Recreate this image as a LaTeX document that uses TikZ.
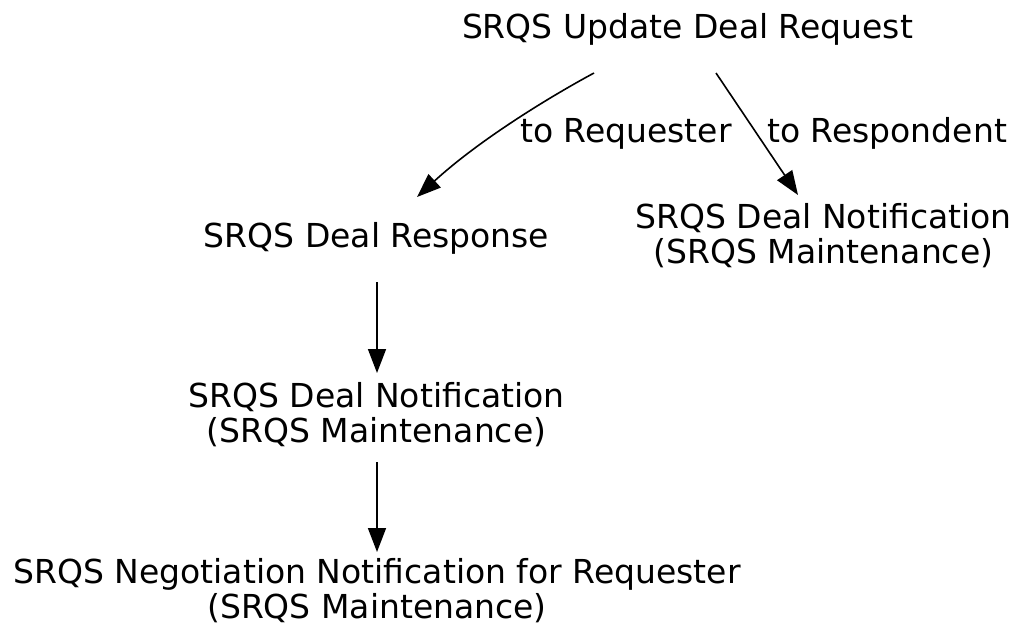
\documentclass[tikz,border=0pt]{standalone}
\usepackage{fontspec}
\setmainfont{DejaVu Sans}
\usetikzlibrary{arrows.meta}

\tikzset{
  msg/.style={anchor=base, inner sep=0pt, align=center, font=\fontsize{33}{35}\selectfont},
  lbl/.style={anchor=base west, inner sep=0pt, font=\fontsize{33}{35}\selectfont},
  edge/.style={line width=1.6pt, -{Triangle[length=24pt, width=18pt]}}
}

\begin{document}
\begin{tikzpicture}[x=1pt, y=-1pt] % 1 pixel = 1pt, eje y hacia abajo

        \useasboundingbox (0,0) rectangle (1016,626);

        % Mensajes (base = linea de base de la ultima linea)
        \node[msg] (update) at (687.5,38) {SRQS Update Deal Request};
        \node[msg] (resp)   at (376.5,247) {SRQS Deal Response};
        \node[msg] (notifR) at (823.5,263) {SRQS Deal Notification\\(SRQS Maintenance)};
        \node[msg] (notifM) at (376.5,442) {SRQS Deal Notification\\(SRQS Maintenance)};
        \node[msg] (negot)  at (377,618) {SRQS Negotiation Notification for Requester\\(SRQS Maintenance)};

        % Flechas
        \draw[edge] ([xshift=-93.5pt, yshift=-35pt]update.base) .. controls (544,100) and (477,142) .. ([xshift=40.5pt, yshift=50pt]resp.base);
        \draw[edge] ([xshift=28.5pt, yshift=-35pt]update.base) -- ([xshift=-25.5pt, yshift=68pt]notifR.base);
        \draw[edge] ([xshift=0.5pt, yshift=-35pt]resp.base) -- ([xshift=0.5pt, yshift=69pt]notifM.base);
        \draw[edge] ([xshift=0.5pt, yshift=-20pt]notifM.base) -- ([yshift=66pt]negot.base);

        % Etiquetas de las flechas
        \node[lbl] (toReq)  at (520,142) {to Requester};
        \node[lbl] (toResp) at (767,142) {to Respondent};

\end{tikzpicture}
\end{document}
